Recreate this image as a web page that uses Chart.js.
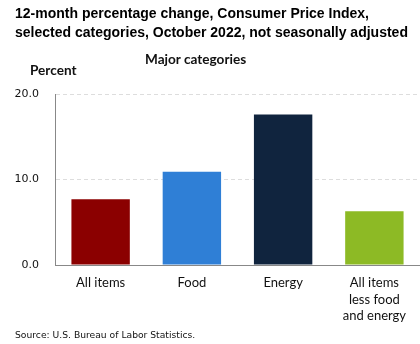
<!DOCTYPE html>
<html>
<head>
<title>CPI October 2022</title>
<style>
  body { margin: 0; background: #fff; }
  #wrap { position: relative; width: 420px; height: 344px; overflow: hidden; }
  #title { position: absolute; left: 15px; top: 4px; font: bold 14px "Liberation Sans", Arial, sans-serif; line-height: 19px; color: #000; white-space: nowrap; }
  #sub { position: absolute; left: 145px; top: 51px; font: bold 13.6px Lato, sans-serif; color: #111; }
  #unit { position: absolute; left: 30px; top: 62px; font: bold 13.6px Lato, sans-serif; color: #111; }
  #src { position: absolute; left: 15px; top: 329px; font: 9.2px "DejaVu Sans", sans-serif; color: #111; }
  #myChart { position: absolute; left: 0; top: 0; }
</style>
</head>
<body>
<div id="wrap">
  <canvas id="myChart" width="420" height="344"></canvas>
  <div id="title">12-month percentage change, Consumer Price Index,<br>selected categories, October 2022, not seasonally adjusted</div>
  <div id="sub">Major categories</div>
  <div id="unit">Percent</div>
  <div id="src">Source: U.S. Bureau of Labor Statistics.</div>
</div>
<script src="https://cdn.jsdelivr.net/npm/chart.js@4/dist/chart.umd.min.js"></script>
<script>
var categories = [["All items"], ["Food"], ["Energy"], ["All items", "less food", "and energy"]];
var values = [7.7, 10.9, 17.6, 6.3];
var barColors = ["#8b0000", "#2f7fd6", "#10243e", "#8dba25"];
var yTicks = [0, 10, 20];

var ctx = document.getElementById('myChart').getContext('2d');
var chart = new Chart(ctx, {
    type: 'bar',
    data: {
        labels: categories,
        datasets: [{
            data: values,
            backgroundColor: barColors,
            categoryPercentage: 0.64,
            barPercentage: 1.0
        }]
    },
    options: {
        responsive: false,
        animation: false,
        layout: { padding: { top: 94, right: 0, bottom: 0, left: 0 } },
        plugins: { legend: { display: false }, tooltip: { enabled: false } },
        scales: {
            x: {
                grid: { display: false },
                border: { color: '#888', width: 1 },
                ticks: {
                    color: '#111',
                    font: { family: 'Lato', size: 13, lineHeight: 1.3 },
                    padding: 1,
                    maxRotation: 0
                },
                afterFit: function (s) { s.height = 79; }
            },
            y: {
                min: 0,
                max: 20,
                afterBuildTicks: function (s) { s.ticks = yTicks.map(function (v) { return { value: v }; }); },
                grid: { color: '#dddddd', drawTicks: false },
                border: { color: '#888', width: 1, dash: [4, 3] },
                ticks: {
                    color: '#111',
                    font: { family: 'DejaVu Sans', size: 11 },
                    padding: 16,
                    callback: function (v) { return v.toFixed(1); }
                },
                afterFit: function (s) { s.width = 55; }
            }
        }
    }
});
</script>
</body>
</html>
